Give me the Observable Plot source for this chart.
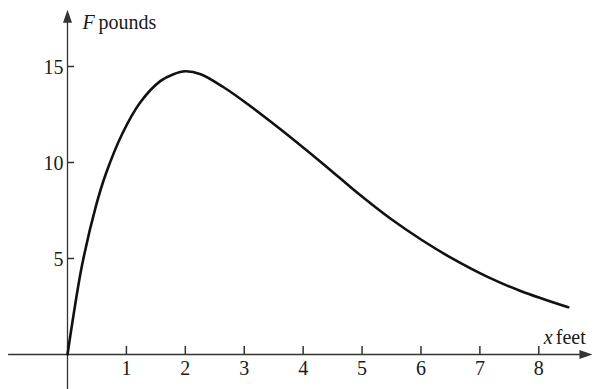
<!DOCTYPE html>
<html>
<head>
<meta charset="utf-8">
<script src="https://cdn.jsdelivr.net/npm/d3@7"></script>
<script src="https://cdn.jsdelivr.net/npm/@observablehq/plot@0.6"></script>
<style>
  html, body { margin: 0; padding: 0; background: #fff; }
</style>
</head>
<body>
<div id="chart"></div>
<script>
// Force F (pounds) as a function of distance x (feet)
const xFeet = [0, 0.12, 0.25, 0.48, 0.65, 0.93, 1.24, 1.58, 1.8, 2.0, 2.26, 2.65, 3.05, 3.62, 4.35, 4.92, 5.48, 6.02, 6.56, 7.13, 7.69, 8.5];
const forcePounds = [0, 2.4, 4.7, 7.7, 9.4, 11.5, 13.15, 14.25, 14.6, 14.75, 14.6, 13.92, 13.06, 11.72, 9.9, 8.42, 7.08, 5.95, 4.95, 4.04, 3.31, 2.46];

// Tick labels on both axes
const xTicks = [1, 2, 3, 4, 5, 6, 7, 8];
const yTicks = [5, 10, 15];

const curveData = xFeet.map((x, i) => ({x, F: forcePounds[i]}));

const serif = "Liberation Serif, Times New Roman, serif";
const ink = "#1a1a1a";
const axisInk = "#333";

// Filled triangular arrowhead, pointing along the vector direction
const arrowhead = {
  draw(context, l) {
    context.moveTo(-4.5, 0);
    context.lineTo(0, -l);
    context.lineTo(4.5, 0);
    context.closePath();
  }
};

const chart = Plot.plot({
  width: 595,
  height: 389,
  margin: 0,
  style: {background: "#fff", fontFamily: serif, color: ink},
  x: {domain: [0, 8], range: [67, 538.3], axis: null},
  y: {domain: [0, 15], range: [354, 66], axis: null},
  marks: [
    // coordinate axes
    Plot.ruleY([0], {x1: -1.0, x2: 8.75, stroke: axisInk, strokeWidth: 1.3}),
    Plot.ruleX([0], {y1: -1.9, y2: 17.4, stroke: axisInk, strokeWidth: 1.3}),
    Plot.vector([{x: 8.91, y: 0}], {x: "x", y: "y", rotate: 90, anchor: "end", length: 13, shape: arrowhead, fill: axisInk, stroke: "none"}),
    Plot.vector([{x: 0, y: 17.95}], {x: "x", y: "y", rotate: 0, anchor: "end", length: 13, shape: arrowhead, fill: axisInk, stroke: "none"}),
    // tick marks
    Plot.ruleX(xTicks, {x: d => d, y1: 0, y2: 0.42, stroke: axisInk, strokeWidth: 1.5}),
    Plot.ruleY(yTicks, {y: d => d, x1: 0, x2: 0.12, stroke: axisInk, strokeWidth: 1.5}),
    // tick labels
    Plot.text(xTicks, {x: d => d, y: 0, dy: 14, text: d => String(d), fontSize: 20, fill: ink}),
    Plot.text(yTicks, {x: 0, y: d => d, dx: -4, dy: 1, text: d => String(d), textAnchor: "end", fontSize: 20, fill: ink}),
    // axis titles
    Plot.text(["F"], {x: 0, y: 16.93, dx: 15, text: d => d, textAnchor: "start", lineAnchor: "bottom", fontSize: 20, fontStyle: "italic", fill: ink}),
    Plot.text(["pounds"], {x: 0, y: 16.93, dx: 31, text: d => d, textAnchor: "start", lineAnchor: "bottom", fontSize: 20, fill: ink}),
    Plot.text(["x"], {x: 8, y: 0, dx: 5, dy: -11, text: d => d, textAnchor: "start", lineAnchor: "bottom", fontSize: 20, fontStyle: "italic", fill: ink}),
    Plot.text(["feet"], {x: 8, y: 0, dx: 17, dy: -11, text: d => d, textAnchor: "start", lineAnchor: "bottom", fontSize: 20, fill: ink}),
    // the force curve
    Plot.line(curveData, {x: "x", y: "F", curve: "catmull-rom", stroke: "#111", strokeWidth: 2.6})
  ]
});

document.getElementById("chart").appendChild(chart);
</script>
</body>
</html>
